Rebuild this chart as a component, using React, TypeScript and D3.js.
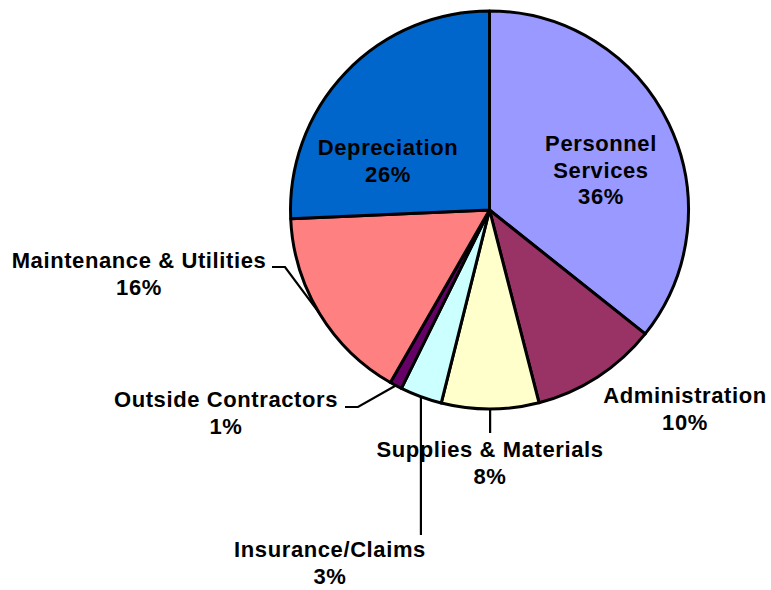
import React from "react";
import * as d3 from "d3";

const categories = [
  "Personnel Services",
  "Administration",
  "Supplies & Materials",
  "Insurance/Claims",
  "Outside Contractors",
  "Maintenance & Utilities",
  "Depreciation",
];
const values = [35.7, 10.3, 7.9, 3.4, 1.0, 16.0, 25.7];
const percentLabels = ["36%", "10%", "8%", "3%", "1%", "16%", "26%"];
const labelLines = [
  ["Personnel", "Services", "36%"],
  ["Administration", "10%"],
  ["Supplies & Materials", "8%"],
  ["Insurance/Claims", "3%"],
  ["Outside Contractors", "1%"],
  ["Maintenance & Utilities", "16%"],
  ["Depreciation", "26%"],
];
const colors = ["#9999FF", "#993366", "#FFFFCC", "#CCFFFF", "#660066", "#FF8080", "#0066CC"];

// layout: label first-baseline positions and leader style
const W = 771;
const H = 590;
const cx = 489.5;
const cy = 210;
const R = 199;
const lineH = 26.5;
const labelPos = [
  { x: 601, y: 151, leader: "none" },
  { x: 685, y: 403, leader: "none" },
  { x: 490, y: 457, leader: "vertical", ly: 433 },
  { x: 330, y: 557, leader: "vertical", ly: 535 },
  { x: 226, y: 407, leader: "elbow", lx: 345, ly: 407, hx: 358 },
  { x: 139, y: 268, leader: "elbow", lx: 272, ly: 267, hx: 285 },
  { x: 388, y: 155, leader: "none" },
];

export default function App() {
  const pie = d3.pie<number>().sort(null).value((d) => d)(values);
  const arc = d3.arc<d3.PieArcDatum<number>>().innerRadius(0).outerRadius(R);

  return (
    <svg
      width={W}
      height={H}
      style={{ position: "absolute", left: 0, top: 0, background: "#fff" }}
      fontFamily="'Liberation Sans', Arial, sans-serif"
      fontWeight="bold"
    >
      <g transform={`translate(${cx},${cy})`}>
        {pie.map((p, i) => (
          <path
            key={categories[i]}
            d={arc(p) || ""}
            fill={colors[i]}
            stroke="#000"
            strokeWidth={3}
            strokeLinejoin="round"
          />
        ))}
      </g>
      {pie.map((p, i) => {
        const lp = labelPos[i] as any;
        const mid = (p.startAngle + p.endAngle) / 2;
        const ax = cx + R * Math.sin(mid);
        const ay = cy - R * Math.cos(mid);
        if (lp.leader === "vertical") {
          return (
            <line key={"l" + i} x1={ax} y1={ay} x2={ax} y2={lp.ly} stroke="#000" strokeWidth={2.2} />
          );
        }
        if (lp.leader === "elbow") {
          return (
            <polyline
              key={"l" + i}
              points={`${lp.lx},${lp.ly} ${lp.hx},${lp.ly} ${ax},${ay}`}
              fill="none"
              stroke="#000"
              strokeWidth={2.2}
            />
          );
        }
        return null;
      })}
      {labelLines.map((lines, i) => (
        <text
          key={"t" + i}
          x={labelPos[i].x}
          y={labelPos[i].y}
          textAnchor="middle"
          fontSize={22}
          letterSpacing={0.6}
          fill="#000"
        >
          {lines.map((s, j) => (
            <tspan key={j} x={labelPos[i].x} dy={j === 0 ? 0 : lineH}>
              {s}
            </tspan>
          ))}
        </text>
      ))}
    </svg>
  );
}
